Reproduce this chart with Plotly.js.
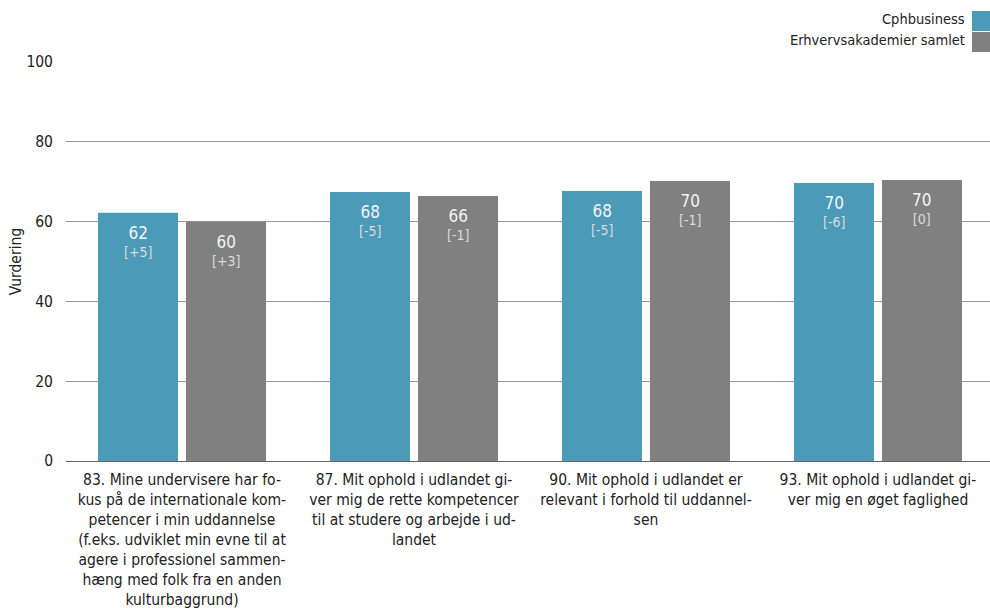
<!DOCTYPE html>
<html>
<head>
<meta charset="utf-8">
<script src="https://cdn.plot.ly/plotly-3.0.1.min.js"></script>
<style>
html,body{margin:0;padding:0;background:#fff;}
#chart{width:990px;height:608px;}
</style>
</head>
<body>
<div id="chart"></div>
<script>
const categories = [
  "83. Mine undervisere har fo-<br>kus på de internationale kom-<br>petencer i min uddannelse<br>(f.eks. udviklet min evne til at<br>agere i professionel sammen-<br>hæng med folk fra en anden<br>kulturbaggrund)",
  "87. Mit ophold i udlandet gi-<br>ver mig de rette kompetencer<br>til at studere og arbejde i ud-<br>landet",
  "90. Mit ophold i udlandet er<br>relevant i forhold til uddannel-<br>sen",
  "93. Mit ophold i udlandet gi-<br>ver mig en øget faglighed"
];
const seriesNames = ["Cphbusiness", "Erhvervsakademier samlet"];
const cphValues = [62.2, 67.4, 67.7, 69.7];
const erhValues = [60.0, 66.4, 70.2, 70.4];
const cphLabels = ["62", "68", "68", "70"];
const erhLabels = ["60", "66", "70", "70"];
const cphDiff = ["[+5]", "[-5]", "[-5]", "[-6]"];
const erhDiff = ["[+3]", "[-1]", "[-1]", "[0]"];
const colors = ["#4a9ab8", "#808080"];

const FONT = "'DejaVu Sans Condensed', 'DejaVu Sans', sans-serif";

const traces = [
  {type: "bar", name: seriesNames[0], x: categories, y: cphValues,
   marker: {color: colors[0]}, hoverinfo: "none"},
  {type: "bar", name: seriesNames[1], x: categories, y: erhValues,
   marker: {color: colors[1]}, hoverinfo: "none"}
];

// value labels inside the top of each bar
const annotations = [];
const series = [
  {values: cphValues, labels: cphLabels, diffs: cphDiff, shift: -44},
  {values: erhValues, labels: erhLabels, diffs: erhDiff, shift: 44}
];
series.forEach(s => {
  categories.forEach((c, i) => {
    annotations.push({
      xref: "x", yref: "y", x: c, y: s.values[i], xshift: s.shift, yshift: -8,
      xanchor: "center", yanchor: "top", showarrow: false, align: "center",
      text: "<span style='font-size:17px'>" + s.labels[i] + "</span><br>" +
            "<span style='font-size:14px;fill:#dcdcdc'>" + s.diffs[i] + "</span>",
      font: {family: FONT, size: 14, color: "#f4f4f4"}
    });
  });
});

annotations.push(
  {xref: "paper", yref: "paper", x: 0.9755, y: 1.0 + 43/399, xanchor: "right", yanchor: "middle",
   text: seriesNames[0], showarrow: false, font: {family: FONT, size: 14.5, color: "#222"}},
  {xref: "paper", yref: "paper", x: 0.9755, y: 1.0 + 22/399, xanchor: "right", yanchor: "middle",
   text: seriesNames[1], showarrow: false, font: {family: FONT, size: 14.5, color: "#222"}}
);

const layout = {
  width: 990, height: 608,
  margin: {l: 66, r: 0, t: 62, b: 147, pad: 0},
  paper_bgcolor: "#fff", plot_bgcolor: "#fff",
  font: {family: FONT, size: 14, color: "#222"},
  showlegend: false,
  barmode: "group", bargap: 0.241, bargroupgap: 0.091,
  xaxis: {type: "category", range: [-0.5, 3.483], showgrid: false, zeroline: false,
          showline: false, ticks: "", tickangle: 0, automargin: false, ticklabelstandoff: 7,
          tickfont: {family: FONT, size: 15.5, color: "#222"}},
  yaxis: {range: [0, 100], dtick: 20, showgrid: true, gridcolor: "#9a9a9a", gridwidth: 1,
          zeroline: true, zerolinecolor: "#666", zerolinewidth: 1,
          showline: false, ticks: "", ticklabelstandoff: 12, automargin: false,
          tickfont: {family: FONT, size: 15.5, color: "#222"},
          title: {text: "Vurdering", standoff: 0, font: {family: FONT, size: 15.5, color: "#222"}}},
  shapes: [
    {type: "rect", xref: "paper", yref: "paper", x0: 0.9805, x1: 1.0, y0: 1.0 + 31/399, y1: 1.0 + 51/399,
     fillcolor: colors[0], line: {width: 0}},
    {type: "rect", xref: "paper", yref: "paper", x0: 0.9805, x1: 1.0, y0: 1.0 + 10/399, y1: 1.0 + 30/399,
     fillcolor: colors[1], line: {width: 0}}
  ],
  annotations: annotations
};

Plotly.newPlot("chart", traces, layout, {displayModeBar: false, staticPlot: true});
</script>
</body>
</html>
